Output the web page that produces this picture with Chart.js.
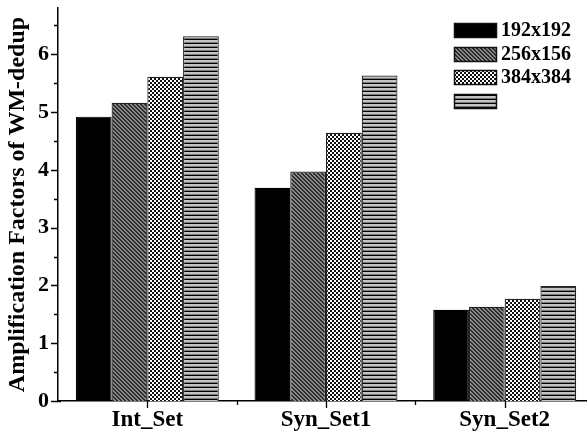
<!DOCTYPE html>
<html>
<head>
<meta charset="utf-8">
<script src="https://cdn.jsdelivr.net/npm/chart.js@4/dist/chart.umd.min.js"></script>
<style>
  html, body { margin: 0; padding: 0; background: #fff; overflow: hidden; }
  #wrap { width: 594px; height: 432px; }
</style>
</head>
<body>
<div id="wrap"><canvas id="barChart" width="594" height="432"></canvas></div>
<script>
// données
const categories = ['Int_Set', 'Syn_Set1', 'Syn_Set2'];
const seriesNames = ['192x192', '256x156', '384x384', ''];
const res192 = [4.92, 3.69, 1.58];
const res256 = [5.16, 3.97, 1.63];
const res384 = [5.61, 4.64, 1.77];
const resMax = [6.31, 5.63, 1.99];
const yTicks = [0, 1, 2, 3, 4, 5, 6];

const SERIF = '"Liberation Serif", "Times New Roman", serif';

// motifs de remplissage
function makePattern(size, draw) {
    const c = document.createElement('canvas');
    c.width = size; c.height = size;
    const g = c.getContext('2d');
    draw(g, size);
    return g.createPattern(c, 'repeat');
}
const ctx = document.getElementById('barChart').getContext('2d');

const hatch = makePattern(4, function(g, s) {
    g.fillStyle = '#8a8a8a';
    g.fillRect(0, 0, s, s);
    g.fillStyle = '#2a2a2a';
    for (let i = 0; i < s; i++) g.fillRect(i, i, 1, 1);
    for (let i = 0; i < s; i++) g.fillRect((i + 1) % s, i, 1, 1);
});
const checker = makePattern(4, function(g, s) {
    g.fillStyle = '#ffffff';
    g.fillRect(0, 0, s, s);
    g.fillStyle = '#111';
    g.fillRect(0, 0, 2, 2);
    g.fillRect(2, 2, 2, 2);
});
const stripes = makePattern(4, function(g, s) {
    g.fillStyle = '#c4c4c4';
    g.fillRect(0, 0, s, s);
    g.fillStyle = '#7a7a7a';
    g.fillRect(0, 2, s, 1);
    g.fillStyle = '#000';
    g.fillRect(0, 3, s, 1);
});
const fills = ['#000000', hatch, checker, stripes];

// ticks, légende
const extras = {
    id: 'extras',
    afterDraw(chart) {
        const c = chart.ctx;
        const x = chart.scales.x, y = chart.scales.y;
        const area = chart.chartArea;
        c.save();
        c.strokeStyle = '#000';
        c.lineWidth = 1.3;
        c.beginPath();
        for (let v = 0; v <= 6.5; v += 0.5) {
            const py = Math.round(y.getPixelForValue(v)) + 0.5;
            const len = Number.isInteger(v) ? 7 : 4;
            c.moveTo(area.left - len, py);
            c.lineTo(area.left + (v === 0 ? 3 : 0), py);
        }
        for (let i = 0; i < categories.length; i++) {
            const px = Math.round(x.getPixelForValue(i)) + 0.5;
            c.moveTo(px, area.bottom);
            c.lineTo(px, area.bottom + 7);
            if (i < categories.length - 1) {
                const pb = Math.round((x.getPixelForValue(i) + x.getPixelForValue(i + 1)) / 2) + 0.5;
                c.moveTo(pb, area.bottom);
                c.lineTo(pb, area.bottom + 4);
            }
        }
        c.stroke();

        // légende
        const lx = 454, ly = 23, step = 23.6;
        c.font = 'bold 20px ' + SERIF;
        c.textBaseline = 'middle';
        c.textAlign = 'left';
        chart.data.datasets.forEach(function(ds, i) {
            const top = Math.round(ly + i * step);
            c.fillStyle = ds.backgroundColor;
            c.fillRect(lx, top, 43, 15);
            c.lineWidth = 1.5;
            c.strokeStyle = '#111';
            c.strokeRect(lx + 0.5, top + 0.5, 42, 14);
            c.fillStyle = '#000';
            c.fillText(ds.label, lx + 47, top + 8);
        });
        c.restore();
    }
};

new Chart(ctx, {
    type: 'bar',
    data: {
        labels: categories,
        datasets: [res192, res256, res384, resMax].map(function(d, i) {
            return {
                label: seriesNames[i],
                data: d,
                backgroundColor: fills[i],
                borderColor: i === 0 ? '#000' : '#222',
                borderWidth: 1.2,
                categoryPercentage: 0.8,
                barPercentage: 1.0
            };
        })
    },
    options: {
        responsive: false,
        animation: false,
        layout: { padding: { top: 8, right: 0, left: 0, bottom: 0 } },
        plugins: { legend: { display: false }, tooltip: { enabled: false } },
        scales: {
            x: {
                grid: { display: false },
                border: { display: true, color: '#000', width: 1.5 },
                ticks: {
                    color: '#000',
                    font: { family: SERIF, size: 23, weight: 'bold' },
                    padding: -3,
                    maxRotation: 0
                },
                afterFit(s) { s.height = 31; s.paddingLeft = 0; s.paddingRight = 0; }
            },
            y: {
                min: 0,
                max: 6.8,
                afterBuildTicks(s) { s.ticks = yTicks.map(function(v) { return { value: v }; }); },
                grid: { display: false },
                border: { display: true, color: '#000', width: 1.5 },
                ticks: {
                    color: '#000',
                    font: { family: SERIF, size: 22, weight: 'bold' },
                    padding: 1
                },
                title: {
                    display: true,
                    text: 'Amplification Factors of WM-dedup',
                    color: '#000',
                    font: { family: SERIF, size: 24, weight: 'bold' },
                    padding: { top: 3, bottom: 0 }
                },
                afterFit(s) { s.width = 58; s.paddingTop = 0; s.paddingBottom = 0; }
            }
        }
    },
    plugins: [extras]
});
</script>
</body>
</html>
